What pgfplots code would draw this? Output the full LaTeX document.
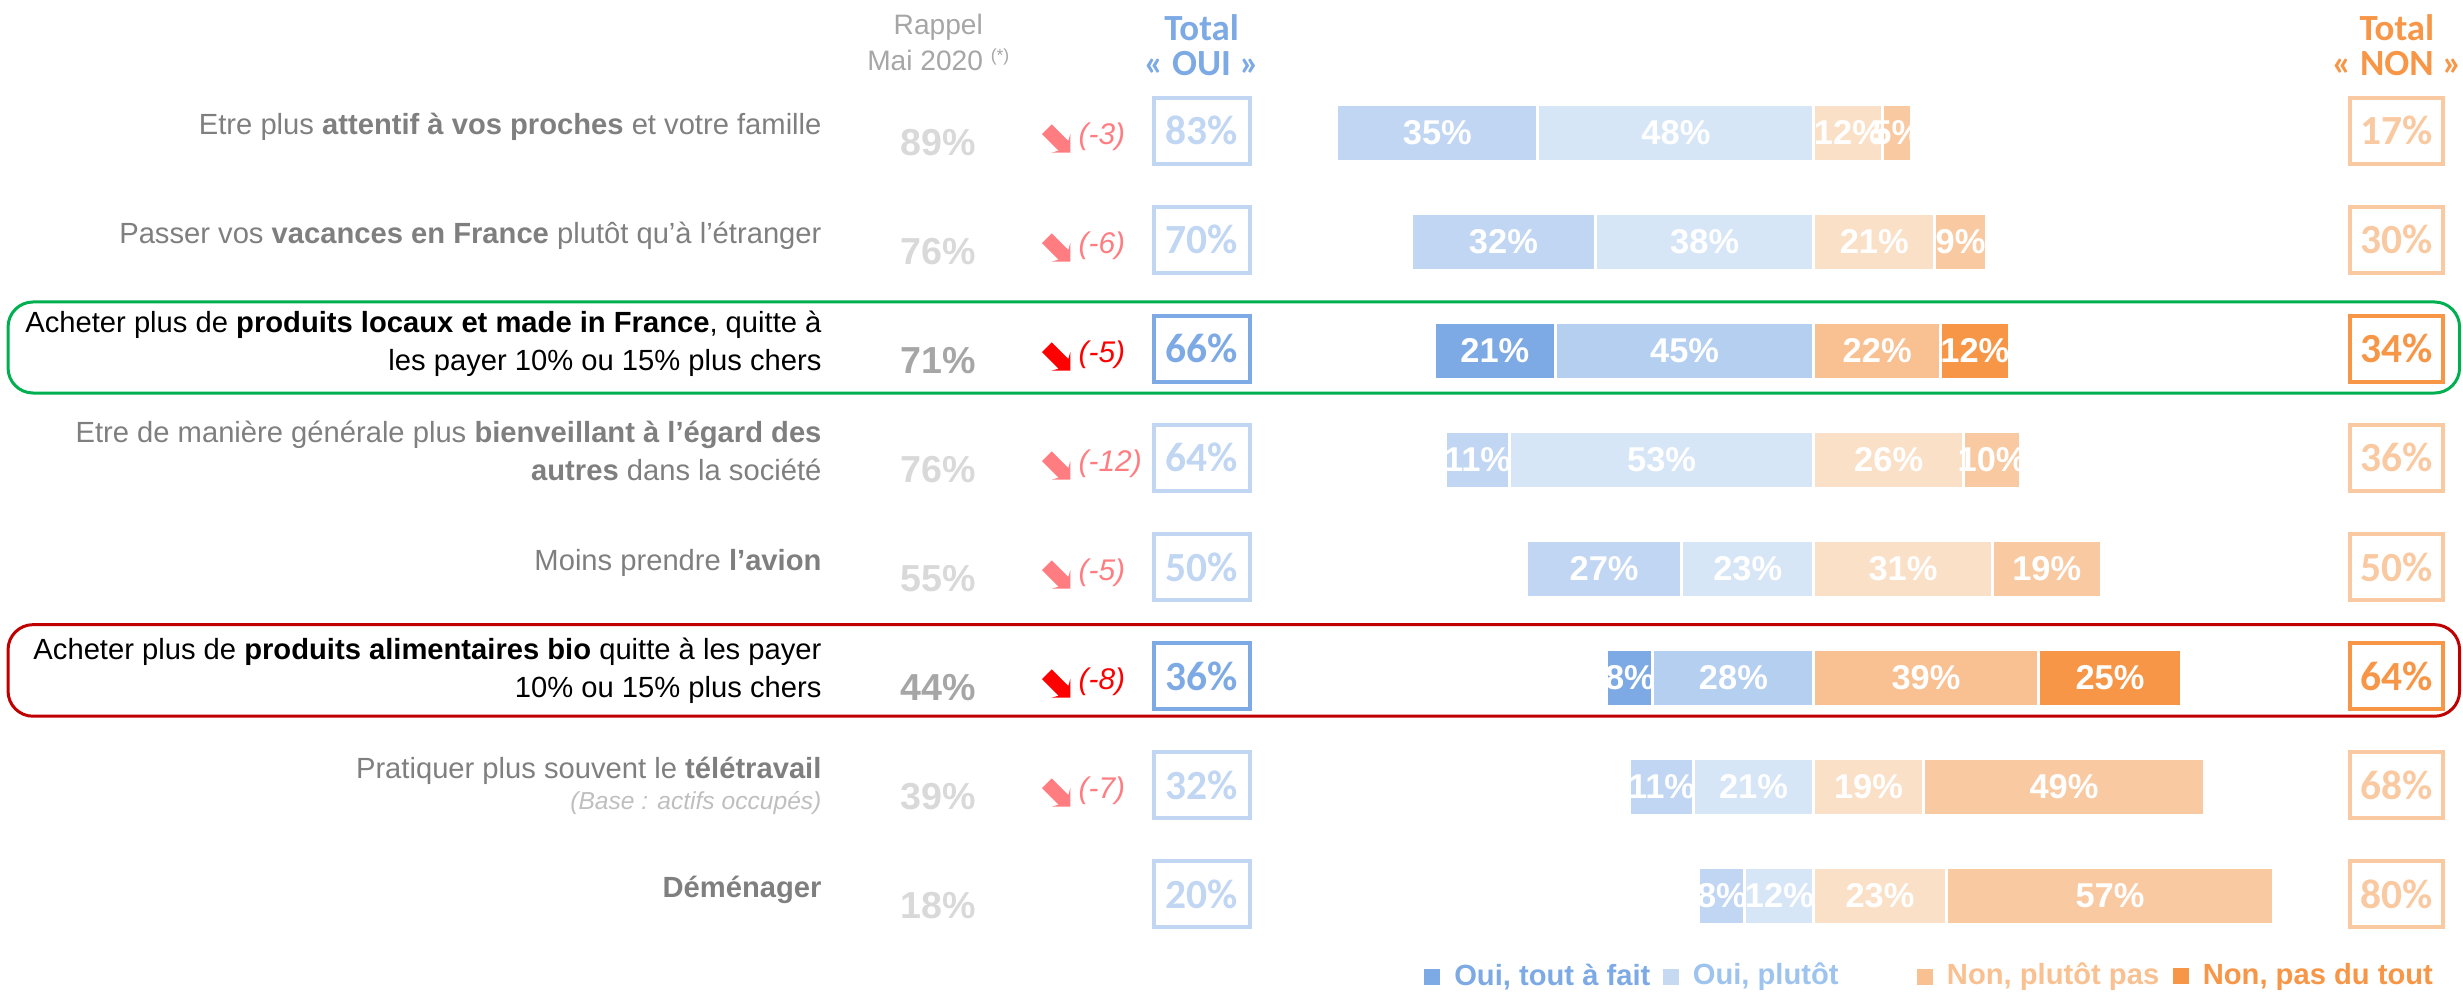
\documentclass[border=0pt]{standalone}
\usepackage{pgfplots}
\pgfplotsset{compat=1.18}
\usepackage{pgfplotstable}
\usetikzlibrary{shapes.arrows}
\usepackage{fontspec}
\setmainfont{Liberation Sans}
\newfontfamily\calfont{Carlito}

\definecolor{cOTF}{HTML}{7DAAE4}
\definecolor{cOP}{HTML}{B4CFF0}
\definecolor{cNPP}{HTML}{F9C091}
\definecolor{cNPDT}{HTML}{F79646}
\definecolor{fOTF}{HTML}{C0D6F2}
\definecolor{fOP}{HTML}{D7E6F6}
\definecolor{fNPP}{HTML}{FBE0C8}
\definecolor{fNPDT}{HTML}{F9CAA2}
\definecolor{labgray}{HTML}{7F7F7F}
\definecolor{rapfaded}{HTML}{D9D9D9}
\definecolor{raphigh}{HTML}{A6A6A6}
\definecolor{arrfaded}{HTML}{FF7C80}
\definecolor{arrhigh}{HTML}{FF0000}
\definecolor{legOP}{HTML}{9DC3EE}
\definecolor{legOPsq}{HTML}{C5D9F1}
\definecolor{boxgreen}{HTML}{00B050}
\definecolor{boxred}{HTML}{C00000}
\definecolor{basegray}{HTML}{BFBFBF}

\newcommand\labfont{\fontsize{8.3}{10.8}\selectfont}
\newcommand\barfont{\fontsize{9.8}{11}\selectfont\bfseries}
\newcommand\rapfont{\fontsize{10.7}{12}\selectfont\bfseries}
\newcommand\boxfont{\calfont\fontsize{11.8}{13}\selectfont\bfseries}
\newcommand\legfont{\fontsize{8.3}{10}\selectfont\bfseries}
\newcommand\hdrfont{\fontsize{8}{10}\selectfont}
\newcommand\totfont{\calfont\fontsize{10.5}{12}\selectfont\bfseries}
\newcommand\chgfont{\fontsize{8.5}{10}\selectfont\itshape}

% Oui values are stored negative (left of centre), Non values positive
\pgfplotstableread{
row fotf otf fop op fnpp npp fnpdt npdt
1 -35 0 -48 0 12 0 5 0
2 -32 0 -38 0 21 0 9 0
3 0 -21 0 -45 0 22 0 12
4 -11 0 -53 0 26 0 10 0
5 -27 0 -23 0 31 0 19 0
6 0 -8 0 -28 0 39 0 25
7 -11 0 -21 0 19 0 49 0
8 -8 0 -12 0 23 0 57 0
}\bars

\newcommand\bl[3]{\node[text=white, font=\barfont, inner sep=0pt] at (axis cs:#1,#2) {#3\%};}
\newcommand\rap[3]{\node[text=#3, font=\rapfont, inner sep=0pt] at (axis cs:-152.3,#1+0.09) {#2\%};}
\newcommand\chg[3]{\node[single arrow, fill=#3, draw=none, inner sep=0.62mm, minimum height=3.3mm, single arrow head extend=0.62mm, single arrow head indent=0.35mm, rotate=-45] at (axis cs:-131.8,#1+0.05) {};
  \node[text=#3, font=\chgfont, inner sep=0pt, anchor=west] at (axis cs:-128.0,#1+0.03) {(#2)};}
\newcommand\oui[3]{\node[draw=#3, line width=0.4mm, minimum width=9.6mm, minimum height=6.6mm, text=#3, font=\boxfont, inner sep=0pt] at (axis cs:-106.5,#1-0.02) {#2\%};}
\newcommand\non[3]{\node[draw=#3, line width=0.4mm, minimum width=9.3mm, minimum height=6.6mm, text=#3, font=\boxfont, inner sep=0pt] at (axis cs:101.4,#1-0.02) {#2\%};}

\pgfplotsset{frame/.style={
  scale only axis, width=246.3mm, height=99.2mm,
  xmin=-315.5, xmax=112.9, ymin=-0.22, ymax=8.88, y dir=reverse,
  hide axis, clip=false}}

\begin{document}
\begin{tikzpicture}
\begin{axis}[frame, xbar stacked, bar width=0.53]
\addplot[fill=fOP, draw=white, line width=0.3mm] table[x=fop, y=row] {\bars};
\addplot[fill=cOP, draw=white, line width=0.3mm] table[x=op, y=row] {\bars};
\addplot[fill=fOTF, draw=white, line width=0.3mm] table[x=fotf, y=row] {\bars};
\addplot[fill=cOTF, draw=white, line width=0.3mm] table[x=otf, y=row] {\bars};
\addplot[fill=fNPP, draw=white, line width=0.3mm] table[x=fnpp, y=row] {\bars};
\addplot[fill=cNPP, draw=white, line width=0.3mm] table[x=npp, y=row] {\bars};
\addplot[fill=fNPDT, draw=white, line width=0.3mm] table[x=fnpdt, y=row] {\bars};
\addplot[fill=cNPDT, draw=white, line width=0.3mm] table[x=npdt, y=row] {\bars};
\path (rel axis cs:0,0) rectangle (rel axis cs:1,1);
\end{axis}

\begin{axis}[frame]
% highlight frames
\draw[boxgreen, line width=0.3mm, rounded corners=2.5mm] (axis cs:-314.1,2.55) rectangle (axis cs:112.3,3.385);
\draw[boxred, line width=0.3mm, rounded corners=2.5mm] (axis cs:-314.1,5.51) rectangle (axis cs:112.3,6.35);

% bar labels
\bl{-65.5}{1}{35}\bl{-24}{1}{48}\bl{6}{1}{12}\bl{14.5}{1}{5}
\bl{-54}{2}{32}\bl{-19}{2}{38}\bl{10.5}{2}{21}\bl{25.5}{2}{9}
\bl{-55.5}{3}{21}\bl{-22.5}{3}{45}\bl{11}{3}{22}\bl{28}{3}{12}
\bl{-58.5}{4}{11}\bl{-26.5}{4}{53}\bl{13}{4}{26}\bl{31}{4}{10}
\bl{-36.5}{5}{27}\bl{-11.5}{5}{23}\bl{15.5}{5}{31}\bl{40.5}{5}{19}
\bl{-32}{6}{8}\bl{-14}{6}{28}\bl{19.5}{6}{39}\bl{51.5}{6}{25}
\bl{-26.5}{7}{11}\bl{-10.5}{7}{21}\bl{9.5}{7}{19}\bl{43.5}{7}{49}
\bl{-16}{8}{8}\bl{-6}{8}{12}\bl{11.5}{8}{23}\bl{51.5}{8}{57}

% row labels
\node[anchor=east, align=right, inner sep=0pt, font=\labfont, text=labgray] at (axis cs:-172.5,0.94) {Etre plus \textbf{attentif à vos proches} et votre famille};
\node[anchor=east, align=right, inner sep=0pt, font=\labfont, text=labgray] at (axis cs:-172.5,1.94) {Passer vos \textbf{vacances en France} plutôt qu’à l’étranger};
\node[anchor=east, align=right, inner sep=0pt, font=\labfont, text=black] at (axis cs:-172.5,2.93) {Acheter plus de \textbf{produits locaux et made in France}, quitte à\\les payer 10\% ou 15\% plus chers};
\node[anchor=east, align=right, inner sep=0pt, font=\labfont, text=labgray] at (axis cs:-172.5,3.92) {Etre de manière générale plus \textbf{bienveillant à l’égard des}\\\textbf{autres} dans la société};
\node[anchor=east, align=right, inner sep=0pt, font=\labfont, text=labgray] at (axis cs:-172.5,4.94) {Moins prendre \textbf{l’avion}};
\node[anchor=east, align=right, inner sep=0pt, font=\labfont, text=black] at (axis cs:-172.5,5.93) {Acheter plus de \textbf{produits alimentaires bio} quitte à les payer\\10\% ou 15\% plus chers};
\node[anchor=east, align=right, inner sep=0pt, font=\labfont, text=labgray] at (axis cs:-172.5,6.85) {Pratiquer plus souvent le \textbf{télétravail}};
\node[anchor=east, align=right, inner sep=0pt, font=\fontsize{7}{8}\selectfont\itshape, text=basegray] at (axis cs:-172.5,7.15) {(Base : actifs occupés)};
\node[anchor=east, align=right, inner sep=0pt, font=\labfont, text=labgray] at (axis cs:-172.5,7.94) {\textbf{Déménager}};

% headers
\node[font=\hdrfont, text=raphigh, inner sep=0pt] at (axis cs:-152.3,0.03) {Rappel};
\node[font=\hdrfont, text=raphigh, inner sep=0pt] at (axis cs:-152.3,0.33) {Mai 2020 \raisebox{0.6ex}{\fontsize{5}{6}\selectfont(*)}};
\node[font=\totfont, text=cOTF, inner sep=0pt] at (axis cs:-106.5,0.03) {Total};
\node[font=\totfont, text=cOTF, inner sep=0pt] at (axis cs:-106.5,0.36) {« OUI »};
\node[font=\totfont, text=cNPDT, inner sep=0pt] at (axis cs:101.4,0.03) {Total};
\node[font=\totfont, text=cNPDT, inner sep=0pt] at (axis cs:101.4,0.36) {« NON »};

% rappel
\rap{1}{89}{rapfaded}\rap{2}{76}{rapfaded}\rap{3}{71}{raphigh}\rap{4}{76}{rapfaded}
\rap{5}{55}{rapfaded}\rap{6}{44}{raphigh}\rap{7}{39}{rapfaded}\rap{8}{18}{rapfaded}

% changes
\chg{1}{-3}{arrfaded}\chg{2}{-6}{arrfaded}\chg{3}{-5}{arrhigh}\chg{4}{-12}{arrfaded}
\chg{5}{-5}{arrfaded}\chg{6}{-8}{arrhigh}\chg{7}{-7}{arrfaded}

% totals
\oui{1}{83}{fOTF}\oui{2}{70}{fOTF}\oui{3}{66}{cOTF}\oui{4}{64}{fOTF}
\oui{5}{50}{fOTF}\oui{6}{36}{cOTF}\oui{7}{32}{fOTF}\oui{8}{20}{fOTF}
\non{1}{17}{fNPDT}\non{2}{30}{fNPDT}\non{3}{34}{cNPDT}\non{4}{36}{fNPDT}
\non{5}{50}{fNPDT}\non{6}{64}{cNPDT}\non{7}{68}{fNPDT}\non{8}{80}{fNPDT}

% legend
\node[anchor=west, inner sep=0pt, font=\legfont] at (axis cs:-67.9,8.74) {\textcolor{cOTF}{\rule{1.6mm}{1.6mm}\hspace{1.4mm}Oui, tout à fait}};
\node[anchor=west, inner sep=0pt, font=\legfont] at (axis cs:-26.4,8.74) {\textcolor{legOPsq}{\rule{1.6mm}{1.6mm}}\hspace{1.4mm}\textcolor{legOP}{Oui, plutôt}};
\node[anchor=west, inner sep=0pt, font=\legfont] at (axis cs:17.8,8.74) {\textcolor{cNPP}{\rule{1.6mm}{1.6mm}\hspace{1.4mm}Non, plutôt pas}};
\node[anchor=west, inner sep=0pt, font=\legfont] at (axis cs:62.3,8.74) {\textcolor{cNPDT}{\rule{1.6mm}{1.6mm}\hspace{1.4mm}Non, pas du tout}};
\end{axis}
\end{tikzpicture}
\end{document}
